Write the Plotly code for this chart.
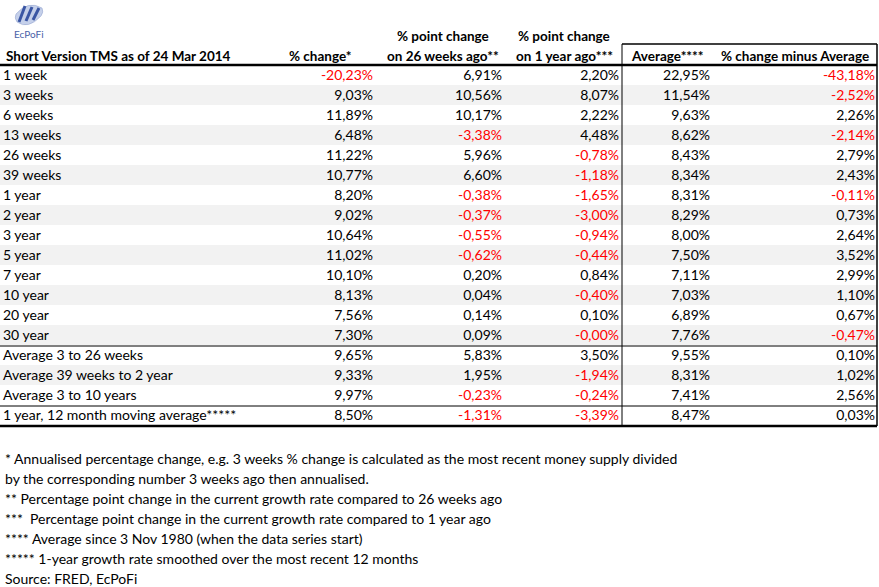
import plotly.graph_objects as go

# Table data
row_labels = ["1 week", "3 weeks", "6 weeks", "13 weeks", "26 weeks", "39 weeks",
              "1 year", "2 year", "3 year", "5 year", "7 year", "10 year", "20 year", "30 year",
              "Average 3 to 26 weeks", "Average 39 weeks to 2 year", "Average 3 to 10 years",
              "1 year, 12 month moving average*****"]
pct_change = [-20.23, 9.03, 11.89, 6.48, 11.22, 10.77, 8.20, 9.02, 10.64, 11.02, 10.10, 8.13, 7.56, 7.30,
              9.65, 9.33, 9.97, 8.50]
chg_26w = [6.91, 10.56, 10.17, -3.38, 5.96, 6.60, -0.38, -0.37, -0.55, -0.62, 0.20, 0.04, 0.14, 0.09,
           5.83, 1.95, -0.23, -1.31]
chg_1y = [2.20, 8.07, 2.22, 4.48, -0.78, -1.18, -1.65, -3.00, -0.94, -0.44, 0.84, -0.40, 0.10, -0.001,
          3.50, -1.94, -0.24, -3.39]
average = [22.95, 11.54, 9.63, 8.62, 8.43, 8.34, 8.31, 8.29, 8.00, 7.50, 7.11, 7.03, 6.89, 7.76,
           9.55, 8.31, 7.41, 8.47]
minus_avg = [-43.18, -2.52, 2.26, -2.14, 2.79, 2.43, -0.11, 0.73, 2.64, 3.52, 2.99, 1.10, 0.67, -0.47,
             0.10, 1.02, 2.56, 0.03]

title = "Short Version TMS as of 24 Mar 2014"
col_headers = ["% change*", "% point change<br>on 26 weeks ago**", "% point change<br>on 1 year ago***",
               "Average****", "% change minus Average"]
footnotes = [
    "* Annualised percentage change, e.g. 3 weeks % change is calculated as the most recent money supply divided",
    "by the corresponding number 3 weeks ago then annualised.",
    "** Percentage point change in the current growth rate compared to 26 weeks ago",
    "***  Percentage point change in the current growth rate compared to 1 year ago",
    "**** Average since 3 Nov 1980 (when the data series start)",
    "***** 1-year growth rate smoothed over the most recent 12 months",
    "Source: FRED, EcPoFi",
]

FONT = "Lato, Roboto, Arial"
BODY = 14
HEAD = 13.5
W, H = 879, 587
row_y = [75 + 20 * i for i in range(len(row_labels))]
text_y = [y + 1.5 for y in row_y]
grey_rows = [1, 3, 5, 7, 9, 11, 13, 15]
col_right = [373, 502, 619, 710, 875]
col_center = [320, 443, 564, 667, 795]


def fmt(v):
    return f"{v:.2f}".replace(".", ",") + "%"


fig = go.Figure()

# row labels
fig.add_trace(go.Scatter(
    x=[3] * len(row_labels), y=text_y, text=row_labels, mode="text",
    textposition="middle right", textfont=dict(family=FONT, size=BODY, color="black"),
    hoverinfo="skip", showlegend=False))

# value columns
for xr, col in zip(col_right, [pct_change, chg_26w, chg_1y, average, minus_avg]):
    fig.add_trace(go.Scatter(
        x=[xr] * len(col), y=text_y, text=[fmt(v) for v in col], mode="text",
        textposition="middle left",
        textfont=dict(family=FONT, size=BODY, color=["#FF0000" if v < 0 else "black" for v in col]),
        hoverinfo="skip", showlegend=False))

shapes = []
for i in grey_rows:
    shapes.append(dict(type="rect", x0=0, x1=877, y0=row_y[i] - 10, y1=row_y[i] + 10,
                       fillcolor="#F2F2F2", line_width=0, layer="below"))
# rules
shapes.append(dict(type="line", x0=0, x1=877, y0=65, y1=65, line=dict(color="black", width=2.5)))
shapes.append(dict(type="line", x0=0, x1=877, y0=346, y1=346, line=dict(color="black", width=1)))
shapes.append(dict(type="line", x0=0, x1=877, y0=406, y1=406, line=dict(color="black", width=1)))
shapes.append(dict(type="line", x0=0, x1=877, y0=426, y1=426, line=dict(color="black", width=2.5)))
# box round the average columns
shapes.append(dict(type="line", x0=622, x1=877, y0=44, y1=44, line=dict(color="black", width=1.5)))
shapes.append(dict(type="line", x0=622, x1=622, y0=44, y1=426, line=dict(color="black", width=1)))
shapes.append(dict(type="line", x0=877, x1=877, y0=44, y1=426, line=dict(color="black", width=1.5)))
# logo
shapes.append(dict(type="path", path="M 16 14 Q 28 0 42 8 Q 44 12 41 16 Q 28 30 17 22 Q 14 18 16 14 Z",
                   fillcolor="#C5D0EA", line=dict(color="#8A9CCB", width=0.5)))
for dx in [0, 7, 14]:
    shapes.append(dict(type="line", x0=19 + dx, x1=25 + dx, y0=22 - dx / 7, y1=6 + dx / 7,
                       line=dict(color="#3A56A4", width=3)))

annotations = [
    dict(x=4, y=56, text="<b>" + title + "</b>", xanchor="left", showarrow=False,
         font=dict(family=FONT, size=HEAD, color="black")),
    dict(x=29, y=34, text="EcPoFi", showarrow=False, font=dict(family=FONT, size=10, color="#4A62A8")),
]
for xc, h in zip(col_center, col_headers):
    if "<br>" in h:
        top, bottom = h.split("<br>")
        annotations.append(dict(x=xc, y=36, text="<b>" + top + "</b>", showarrow=False,
                                font=dict(family=FONT, size=HEAD, color="black")))
        annotations.append(dict(x=xc, y=56, text="<b>" + bottom + "</b>", showarrow=False,
                                font=dict(family=FONT, size=HEAD, color="black")))
    else:
        annotations.append(dict(x=xc, y=56, text="<b>" + h + "</b>", showarrow=False,
                                font=dict(family=FONT, size=HEAD, color="black")))

for k, line in enumerate(footnotes):
    annotations.append(dict(x=3, y=458 + 20 * k, text=line, xanchor="left", showarrow=False,
                            font=dict(family=FONT, size=BODY, color="black")))

fig.update_layout(
    width=W, height=H, margin=dict(l=0, r=0, t=0, b=0),
    paper_bgcolor="white", plot_bgcolor="white",
    xaxis=dict(range=[0, W], visible=False, fixedrange=True),
    yaxis=dict(range=[H, 0], visible=False, fixedrange=True),
    shapes=shapes, annotations=annotations,
)

fig.write_html("out.html", config={"displayModeBar": False},
               post_script="document.body.style.margin='0';")
